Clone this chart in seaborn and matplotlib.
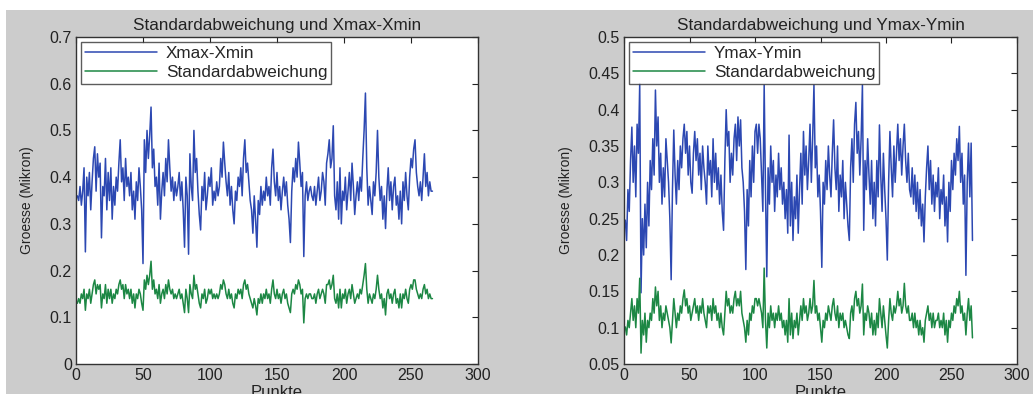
import pandas as pd
import matplotlib
matplotlib.use("Agg")
import matplotlib.pyplot as plt
import matplotlib.ticker as mticker
from matplotlib.patches import Rectangle
import seaborn as sns

# Xmax-Xmin values per point (left panel)
x_range = [0.36, 0.35, 0.38, 0.34, 0.37, 0.42, 0.24, 0.40, 0.36, 0.41,
           0.33, 0.39, 0.44, 0.465, 0.37, 0.45, 0.40, 0.43, 0.27, 0.38,
           0.36, 0.44, 0.33, 0.41, 0.35, 0.42, 0.31, 0.38, 0.34, 0.40,
           0.37, 0.43, 0.48, 0.39, 0.42, 0.35, 0.44, 0.38, 0.40, 0.36,
           0.41, 0.33, 0.37, 0.31, 0.39, 0.35, 0.42, 0.38, 0.33, 0.215,
           0.48, 0.41, 0.50, 0.44, 0.49, 0.55, 0.42, 0.46, 0.38, 0.40,
           0.34, 0.43, 0.31, 0.37, 0.41, 0.36, 0.44, 0.39, 0.48, 0.42,
           0.37, 0.40, 0.35, 0.39, 0.36, 0.38, 0.41, 0.35, 0.39, 0.33,
           0.25, 0.40, 0.36, 0.235, 0.45, 0.38, 0.35, 0.50, 0.41, 0.44,
           0.37, 0.32, 0.287, 0.38, 0.35, 0.41, 0.33, 0.36, 0.40, 0.38,
           0.42, 0.34, 0.37, 0.35, 0.39, 0.36, 0.38, 0.44, 0.40, 0.475,
           0.43, 0.39, 0.36, 0.41, 0.34, 0.38, 0.33, 0.30, 0.37, 0.35,
           0.40, 0.38, 0.42, 0.36, 0.44, 0.48, 0.41, 0.43, 0.39, 0.35,
           0.33, 0.28, 0.36, 0.31, 0.25, 0.35, 0.32, 0.38, 0.34, 0.37,
           0.35, 0.40, 0.36, 0.38, 0.34, 0.42, 0.46, 0.39, 0.36, 0.41,
           0.35, 0.38, 0.33, 0.37, 0.40, 0.36, 0.39, 0.34, 0.31, 0.26,
           0.37, 0.42, 0.39, 0.44, 0.40, 0.475, 0.43, 0.38, 0.41, 0.23,
           0.36, 0.39, 0.35, 0.37, 0.38, 0.36, 0.35, 0.38, 0.34, 0.37,
           0.40, 0.35, 0.37, 0.41, 0.39, 0.34, 0.43, 0.45, 0.48, 0.42,
           0.44, 0.51, 0.36, 0.33, 0.39, 0.31, 0.42, 0.30, 0.37, 0.35,
           0.40, 0.33, 0.37, 0.41, 0.35, 0.43, 0.38, 0.32, 0.36, 0.39,
           0.35, 0.40, 0.37, 0.44, 0.50, 0.58, 0.42, 0.34, 0.38, 0.35,
           0.32, 0.39, 0.36, 0.41, 0.50, 0.40, 0.35, 0.38, 0.31, 0.36,
           0.29, 0.37, 0.42, 0.35, 0.39, 0.33, 0.38, 0.40, 0.34, 0.36,
           0.31, 0.37, 0.30, 0.39, 0.35, 0.41, 0.36, 0.33, 0.40, 0.44,
           0.42, 0.46, 0.48, 0.41, 0.38, 0.36, 0.39, 0.35, 0.40, 0.45,
           0.38, 0.41, 0.36, 0.39, 0.37, 0.37]

# Standardabweichung X (left panel)
x_std = [0.13, 0.14, 0.13, 0.15, 0.14, 0.16, 0.115, 0.15, 0.14, 0.16,
         0.13, 0.15, 0.17, 0.18, 0.15, 0.17, 0.16, 0.17, 0.12, 0.15,
         0.14, 0.17, 0.13, 0.16, 0.14, 0.16, 0.13, 0.15, 0.14, 0.16,
         0.15, 0.17, 0.18, 0.16, 0.17, 0.14, 0.17, 0.15, 0.16, 0.14,
         0.16, 0.13, 0.15, 0.12, 0.15, 0.14, 0.16, 0.15, 0.13, 0.115,
         0.18, 0.16, 0.19, 0.17, 0.19, 0.22, 0.16, 0.18, 0.15, 0.16,
         0.14, 0.17, 0.13, 0.15, 0.16, 0.14, 0.17, 0.15, 0.18, 0.16,
         0.15, 0.16, 0.14, 0.15, 0.14, 0.15, 0.16, 0.14, 0.15, 0.13,
         0.11, 0.16, 0.14, 0.11, 0.17, 0.15, 0.14, 0.19, 0.16, 0.17,
         0.15, 0.13, 0.12, 0.15, 0.14, 0.16, 0.13, 0.14, 0.16, 0.15,
         0.16, 0.14, 0.15, 0.14, 0.15, 0.14, 0.15, 0.17, 0.16, 0.18,
         0.17, 0.15, 0.14, 0.16, 0.14, 0.15, 0.13, 0.12, 0.15, 0.14,
         0.16, 0.15, 0.16, 0.14, 0.17, 0.18, 0.16, 0.17, 0.15, 0.14,
         0.13, 0.12, 0.14, 0.125, 0.105, 0.14, 0.13, 0.15, 0.13, 0.15,
         0.14, 0.16, 0.14, 0.15, 0.13, 0.16, 0.18, 0.15, 0.14, 0.16,
         0.14, 0.15, 0.13, 0.15, 0.16, 0.14, 0.15, 0.13, 0.12, 0.11,
         0.15, 0.16, 0.15, 0.17, 0.16, 0.18, 0.17, 0.15, 0.16, 0.088,
         0.14, 0.15, 0.14, 0.15, 0.15, 0.14, 0.14, 0.15, 0.13, 0.15,
         0.16, 0.14, 0.15, 0.16, 0.15, 0.13, 0.17, 0.17, 0.18, 0.16,
         0.17, 0.19, 0.14, 0.13, 0.15, 0.12, 0.16, 0.12, 0.15, 0.14,
         0.16, 0.13, 0.15, 0.16, 0.14, 0.17, 0.15, 0.13, 0.14, 0.15,
         0.14, 0.16, 0.15, 0.17, 0.19, 0.215, 0.16, 0.13, 0.15, 0.14,
         0.13, 0.15, 0.14, 0.16, 0.19, 0.16, 0.14, 0.15, 0.12, 0.14,
         0.105, 0.15, 0.16, 0.14, 0.15, 0.13, 0.15, 0.16, 0.13, 0.14,
         0.12, 0.15, 0.12, 0.15, 0.14, 0.16, 0.14, 0.13, 0.16, 0.17,
         0.16, 0.18, 0.18, 0.16, 0.15, 0.14, 0.15, 0.14, 0.16, 0.17,
         0.15, 0.16, 0.14, 0.15, 0.14, 0.14]

# Ymax-Ymin values per point (right panel)
y_range = [0.248, 0.22, 0.29, 0.26, 0.33, 0.376, 0.30, 0.35, 0.28, 0.38,
           0.34, 0.436, 0.148, 0.25, 0.20, 0.27, 0.21, 0.30, 0.24, 0.33,
           0.29, 0.36, 0.31, 0.427, 0.35, 0.39, 0.30, 0.34, 0.27, 0.32,
           0.28, 0.36, 0.33, 0.30, 0.25, 0.166, 0.29, 0.372, 0.31, 0.27,
           0.33, 0.29, 0.35, 0.32, 0.36, 0.38, 0.34, 0.37, 0.31, 0.35,
           0.30, 0.285, 0.34, 0.37, 0.33, 0.36, 0.31, 0.34, 0.29, 0.35,
           0.32, 0.30, 0.27, 0.35, 0.31, 0.33, 0.28, 0.36, 0.30, 0.34,
           0.29, 0.32, 0.27, 0.31, 0.26, 0.234, 0.33, 0.40, 0.35, 0.37,
           0.30, 0.34, 0.31, 0.36, 0.38, 0.33, 0.39, 0.35, 0.386, 0.32,
           0.30, 0.26, 0.18, 0.29, 0.24, 0.33, 0.28, 0.35, 0.30, 0.37,
           0.38, 0.34, 0.38, 0.36, 0.31, 0.26, 0.434, 0.29, 0.17, 0.32,
           0.27, 0.35, 0.30, 0.33, 0.26, 0.31, 0.28, 0.34, 0.29, 0.32,
           0.27, 0.30, 0.25, 0.29, 0.23, 0.365, 0.24, 0.30, 0.22, 0.28,
           0.25, 0.31, 0.23, 0.29, 0.34, 0.27, 0.37, 0.31, 0.35, 0.29,
           0.33, 0.38, 0.30, 0.36, 0.434, 0.32, 0.35, 0.28, 0.31, 0.26,
           0.183, 0.30, 0.27, 0.33, 0.29, 0.35, 0.31, 0.28, 0.34, 0.386,
           0.32, 0.29, 0.35, 0.26, 0.31, 0.28, 0.33, 0.25, 0.30, 0.27,
           0.24, 0.22, 0.32, 0.36, 0.30, 0.38, 0.41, 0.34, 0.37, 0.31,
           0.36, 0.434, 0.234, 0.33, 0.29, 0.36, 0.31, 0.27, 0.33, 0.25,
           0.30, 0.24, 0.33, 0.28, 0.379, 0.31, 0.26, 0.34, 0.29, 0.25,
           0.193, 0.30, 0.37, 0.32, 0.28, 0.35, 0.30, 0.34, 0.38, 0.33,
           0.36, 0.31, 0.35, 0.38, 0.33, 0.30, 0.34, 0.29, 0.28, 0.32,
           0.27, 0.31, 0.26, 0.30, 0.25, 0.29, 0.24, 0.27, 0.218, 0.28,
           0.32, 0.35, 0.29, 0.33, 0.27, 0.31, 0.26, 0.30, 0.28, 0.32,
           0.25, 0.29, 0.27, 0.31, 0.24, 0.28, 0.218, 0.30, 0.26, 0.33,
           0.29, 0.34, 0.31, 0.36, 0.33, 0.377, 0.30, 0.34, 0.27, 0.31,
           0.172, 0.30, 0.354, 0.28, 0.354, 0.22]

# Standardabweichung Y (right panel)
y_std = [0.101, 0.09, 0.11, 0.10, 0.12, 0.14, 0.11, 0.13, 0.10, 0.14,
         0.12, 0.168, 0.065, 0.11, 0.09, 0.12, 0.08, 0.11, 0.10, 0.12,
         0.11, 0.14, 0.12, 0.156, 0.13, 0.15, 0.11, 0.13, 0.10, 0.12,
         0.11, 0.13, 0.12, 0.11, 0.10, 0.079, 0.11, 0.14, 0.12, 0.10,
         0.12, 0.11, 0.13, 0.12, 0.14, 0.152, 0.13, 0.14, 0.12, 0.13,
         0.11, 0.12, 0.13, 0.14, 0.12, 0.13, 0.11, 0.13, 0.12, 0.14,
         0.12, 0.11, 0.10, 0.13, 0.12, 0.13, 0.11, 0.14, 0.12, 0.13,
         0.11, 0.12, 0.10, 0.12, 0.10, 0.09, 0.12, 0.15, 0.13, 0.14,
         0.12, 0.13, 0.12, 0.14, 0.15, 0.13, 0.14, 0.13, 0.15, 0.12,
         0.11, 0.10, 0.08, 0.11, 0.09, 0.12, 0.11, 0.13, 0.12, 0.14,
         0.14, 0.13, 0.14, 0.13, 0.12, 0.10, 0.182, 0.11, 0.072, 0.12,
         0.10, 0.13, 0.11, 0.12, 0.10, 0.12, 0.11, 0.13, 0.11, 0.12,
         0.10, 0.11, 0.09, 0.11, 0.08, 0.14, 0.09, 0.12, 0.085, 0.11,
         0.10, 0.12, 0.09, 0.11, 0.13, 0.11, 0.14, 0.12, 0.13, 0.11,
         0.12, 0.14, 0.12, 0.13, 0.165, 0.12, 0.13, 0.11, 0.12, 0.10,
         0.08, 0.11, 0.10, 0.12, 0.11, 0.13, 0.12, 0.11, 0.13, 0.14,
         0.12, 0.11, 0.13, 0.10, 0.12, 0.11, 0.12, 0.10, 0.11, 0.10,
         0.09, 0.085, 0.12, 0.13, 0.11, 0.14, 0.15, 0.13, 0.14, 0.12,
         0.13, 0.16, 0.09, 0.12, 0.11, 0.13, 0.12, 0.10, 0.12, 0.09,
         0.11, 0.09, 0.12, 0.10, 0.14, 0.12, 0.10, 0.13, 0.11, 0.09,
         0.072, 0.11, 0.14, 0.12, 0.11, 0.13, 0.12, 0.13, 0.15, 0.13,
         0.14, 0.12, 0.13, 0.161, 0.13, 0.12, 0.13, 0.11, 0.11, 0.12,
         0.10, 0.12, 0.10, 0.11, 0.09, 0.11, 0.09, 0.10, 0.08, 0.11,
         0.12, 0.13, 0.11, 0.12, 0.10, 0.12, 0.10, 0.11, 0.11, 0.12,
         0.10, 0.11, 0.10, 0.12, 0.09, 0.11, 0.08, 0.11, 0.10, 0.12,
         0.11, 0.13, 0.12, 0.14, 0.13, 0.15, 0.12, 0.13, 0.11, 0.12,
         0.09, 0.12, 0.14, 0.11, 0.13, 0.086]

points = list(range(1, len(x_range) + 1))

sns.set_style("white")
plt.rcParams['font.family'] = ['Liberation Sans', 'DejaVu Sans']

fig = plt.figure(figsize=(10.33, 3.94), dpi=100, facecolor="white")
# grey MATLAB figure window background
fig.patches.append(Rectangle((6 / 1033, 0), 1, 1 - 10 / 394, transform=fig.transFigure,
                             facecolor="#cccccc", edgecolor="none", zorder=-10))

blue = "#2c48b2"
green = "#1c8744"

panels = [
    dict(pos=[76 / 1033, 30 / 394, 402 / 1033, 327 / 394], rng=x_range, std=x_std,
         rlabel="Xmax-Xmin", title="Standardabweichung und Xmax-Xmin",
         ylim=(0, 0.7), yticks=[0, 0.1, 0.2, 0.3, 0.4, 0.5, 0.6, 0.7]),
    dict(pos=[624 / 1033, 30 / 394, 393 / 1033, 327 / 394], rng=y_range, std=y_std,
         rlabel="Ymax-Ymin", title="Standardabweichung und Ymax-Ymin",
         ylim=(0.05, 0.5), yticks=[0.05, 0.1, 0.15, 0.2, 0.25, 0.3, 0.35, 0.4, 0.45, 0.5]),
]

for p in panels:
    ax = fig.add_axes(p["pos"])
    df = pd.DataFrame({"Punkte": points, "rng": p["rng"], "std": p["std"]})
    sns.lineplot(data=df, x="Punkte", y="rng", ax=ax, color=blue, lw=1.1, label=p["rlabel"])
    sns.lineplot(data=df, x="Punkte", y="std", ax=ax, color=green, lw=1.1, label="Standardabweichung")
    ax.set_xlim(0, 300)
    ax.set_ylim(*p["ylim"])
    ax.set_xticks([0, 50, 100, 150, 200, 250, 300])
    ax.set_yticks(p["yticks"])
    ax.yaxis.set_major_formatter(mticker.FormatStrFormatter("%g"))
    ax.tick_params(direction="in", top=True, right=True, length=4, width=0.8,
                   labelsize=11.5, colors="#222222", pad=3)
    for s in ax.spines.values():
        s.set_color("#333333")
        s.set_linewidth(1.0)
    ax.set_facecolor("white")
    ax.set_title(p["title"], fontsize=12.3, color="#222222", pad=5)
    ax.set_xlabel("Punkte", fontsize=12, color="#222222", labelpad=1)
    ax.set_ylabel("Groesse (Mikron)", fontsize=10, color="#222222", labelpad=11)
    leg = ax.legend(loc="upper left", fontsize=12.3, frameon=True, fancybox=False,
                    edgecolor="#333333", borderpad=0.25, labelspacing=0.2,
                    handlelength=4.2, handletextpad=0.5, borderaxespad=0.3)
    leg.get_frame().set_linewidth(1.0)

fig.savefig("out.png", dpi=100, facecolor=fig.get_facecolor())
